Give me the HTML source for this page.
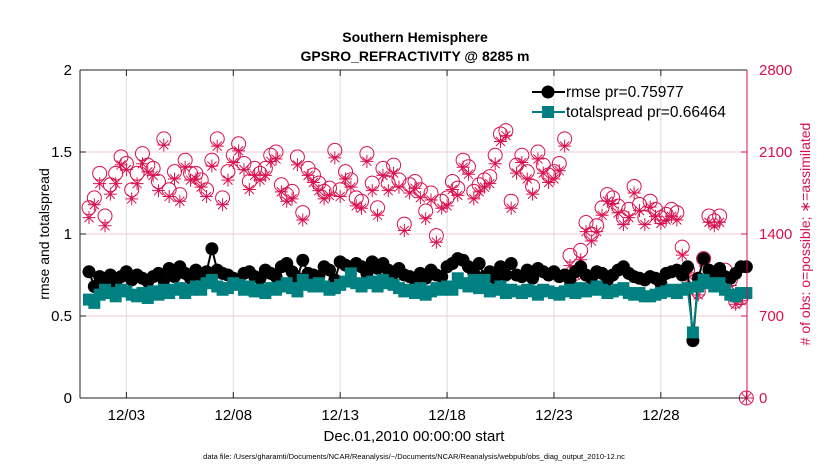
<!DOCTYPE html>
<html><head><meta charset="utf-8"><style>
body{margin:0;background:#fff;font-family:"Liberation Sans",sans-serif}
svg text{font-family:"Liberation Sans",sans-serif}
</style></head><body>
<svg id="chart" width="830" height="470" xmlns="http://www.w3.org/2000/svg">
<rect width="830" height="470" fill="#fff"/>
<g id="grid"></g><g id="marks"></g><g id="axes"></g>
<text x="415" y="42" font-size="14" font-weight="bold" text-anchor="middle">Southern Hemisphere</text>
<text x="415" y="61" font-size="14" font-weight="bold" text-anchor="middle">GPSRO_REFRACTIVITY @ 8285 m</text>
<text x="414" y="441" font-size="15" text-anchor="middle">Dec.01,2010 00:00:00 start</text>
<text x="414" y="459" font-size="7.5" text-anchor="middle">data file: /Users/gharamti/Documents/NCAR/Reanalysis/~/Documents/NCAR/Reanalysis/webpub/obs_diag_output_2010-12.nc</text>
<text transform="translate(49,234) rotate(-90)" font-size="14" text-anchor="middle">rmse and totalspread</text>
<text transform="translate(810,234) rotate(-90)" font-size="14" text-anchor="middle" fill="#d9114f"># of obs: o=possible; ∗=assimilated</text>
<g>
<line x1="532" y1="92" x2="565" y2="92" stroke="#000" stroke-width="2"/>
<circle cx="548" cy="92" r="6.5" fill="#000"/>
<text x="566" y="97" font-size="15.5">rmse pr=0.75977</text>
<line x1="532" y1="112" x2="565" y2="112" stroke="#008080" stroke-width="2"/>
<rect x="542" y="106" width="12" height="12" fill="#008080"/>
<text x="566" y="117" font-size="15.5">totalspread pr=0.66464</text>
</g>
</svg>
<script>
const xTickLabels=["12/03","12/08","12/13","12/18","12/23","12/28"];
const xTickDays=[2,7,12,17,22,27];
const yLeftTicks=[0,0.5,1,1.5,2];
const yRightTicks=[0,700,1400,2100,2800];
const rmse=[0.77,0.68,0.74,0.72,0.75,0.70,0.74,0.77,0.72,0.75,
0.73,0.71,0.74,0.76,0.72,0.79,0.74,0.80,0.76,0.73,
0.78,0.75,0.77,0.91,0.78,0.76,0.75,0.73,0.72,0.76,
0.77,0.74,0.73,0.78,0.76,0.74,0.80,0.82,0.77,0.73,
0.84,0.76,0.75,0.74,0.80,0.78,0.72,0.83,0.81,0.79,
0.82,0.80,0.76,0.83,0.79,0.82,0.78,0.76,0.79,0.75,
0.74,0.72,0.76,0.73,0.78,0.75,0.74,0.80,0.82,0.85,
0.84,0.80,0.76,0.82,0.74,0.77,0.73,0.80,0.75,0.82,
0.75,0.74,0.78,0.73,0.79,0.77,0.75,0.77,0.74,0.75,
0.72,0.77,0.80,0.75,0.73,0.77,0.76,0.72,0.75,0.78,
0.80,0.76,0.74,0.73,0.72,0.74,0.73,0.70,0.76,0.77,
0.78,0.75,0.80,0.35,0.73,0.85,0.78,0.76,0.79,0.74,
0.73,0.76,0.80,0.80];
const spread=[0.60,0.58,0.63,0.66,0.64,0.62,0.66,0.65,0.63,0.62,
0.64,0.61,0.65,0.63,0.66,0.64,0.66,0.67,0.64,0.66,
0.68,0.66,0.70,0.72,0.68,0.66,0.67,0.70,0.69,0.66,
0.68,0.65,0.66,0.64,0.67,0.66,0.68,0.70,0.67,0.65,
0.72,0.69,0.68,0.70,0.68,0.66,0.67,0.69,0.71,0.76,
0.70,0.68,0.70,0.71,0.68,0.72,0.70,0.69,0.67,0.65,
0.66,0.64,0.67,0.63,0.65,0.67,0.66,0.68,0.66,0.73,
0.70,0.68,0.72,0.67,0.72,0.65,0.66,0.68,0.64,0.66,
0.65,0.64,0.66,0.65,0.63,0.66,0.65,0.64,0.63,0.65,
0.66,0.64,0.67,0.65,0.66,0.68,0.66,0.64,0.65,0.66,
0.67,0.64,0.63,0.64,0.62,0.62,0.63,0.64,0.65,0.66,
0.64,0.66,0.67,0.40,0.68,0.72,0.70,0.68,0.70,0.66,
0.63,0.62,0.64,0.64];
const obsPossible=[1624,1708,1918,1554,1820,1918,2058,2002,1778,1918,
2086,1988,1960,1848,2212,1778,1932,1736,2030,1918,
1918,1862,1778,2030,2212,1708,1932,2072,2170,2002,
1848,1960,1918,1960,2072,2100,1820,1736,1764,2058,
1582,1960,1904,1834,1764,1792,2114,1778,1932,1862,
1708,1680,2086,1834,1624,1960,1834,1988,1862,1484,
1820,1848,1778,1596,1750,1386,1680,1708,1848,1792,
2030,1974,1764,1820,1862,1890,2072,2254,2282,1680,
1988,2072,1932,1806,2100,1988,1904,1932,2002,2212,
1218,1064,1260,1498,1400,1470,1624,1736,1708,1638,
1540,1610,1806,1652,1540,1680,1610,1540,1568,1610,
1582,1288,1092,1008,910,1190,1554,1512,1554,1092,
1008,826,854,0];
const obsAssim=[1540,1650,1830,1470,1740,1830,1990,1950,1700,1830,
2000,1930,1900,1770,2160,1720,1870,1680,1970,1860,
1870,1800,1720,1980,2150,1650,1860,2010,2110,1950,
1780,1900,1860,1900,2020,2040,1760,1680,1700,1990,
1520,1900,1840,1770,1700,1730,2050,1720,1870,1800,
1640,1620,2020,1770,1560,1900,1770,1920,1800,1430,
1750,1790,1710,1530,1690,1330,1620,1640,1780,1730,
1970,1910,1700,1760,1800,1830,2000,2190,2240,1620,
1920,2010,1870,1740,2040,1920,1840,1870,1940,2150,
1130,1050,1180,1420,1340,1420,1560,1680,1660,1580,
1480,1540,1750,1600,1480,1630,1550,1490,1520,1550,
1520,1220,1050,970,880,1160,1500,1470,1500,1030,
960,800,830,0];

const NS="http://www.w3.org/2000/svg";
const L=80,R=747,T=70,B=398,D0=-0.17,D1=31.03;
const xs=d=>L+(d-D0)/(D1-D0)*(R-L);
const yl=v=>B-v/2*(B-T);
const yr=v=>B-v/2800*(B-T);
const PINK="#d9114f";
function mk(tag,attrs,parent){const e=document.createElementNS(NS,tag);for(const k in attrs)e.setAttribute(k,attrs[k]);document.getElementById(parent).appendChild(e);return e;}
xTickDays.forEach((d,i)=>{
 const g=mk('line',{x1:xs(d),x2:xs(d),y1:T,y2:B,stroke:'#dcdcdc','stroke-width':1},'grid');
 
 
 const t=mk('line',{x1:xs(d),x2:xs(d),y1:B,y2:B-6,stroke:'#222','stroke-width':1},'axes');
 
 
 const t2=mk('line',{x1:xs(d),x2:xs(d),y1:T,y2:T+6,stroke:'#222','stroke-width':1},'axes');
 
 
 const lb=mk('text',{x:xs(d),y:B+22,'font-size':15,'text-anchor':'middle'},'axes');
 lb.textContent=xTickLabels[i];
 
 
});
yRightTicks.forEach(v=>{
 if(v>0&&v<2800){const g=mk('line',{x1:L,x2:R,y1:yr(v),y2:yr(v),stroke:'#f5c9d8','stroke-width':1},'grid');
 
 }
 const t=mk('line',{x1:R,x2:R-6,y1:yr(v),y2:yr(v),stroke:PINK,'stroke-width':1},'axes');
 
 
 const lb=mk('text',{x:R+12,y:yr(v)+5,'font-size':15,fill:PINK},'axes');
 lb.textContent=v;
 
 
});
yLeftTicks.forEach(v=>{
 const t=mk('line',{x1:L,x2:L+6,y1:yl(v),y2:yl(v),stroke:'#222','stroke-width':1},'axes');
 
 
 const lb=mk('text',{x:L-8,y:yl(v)+5,'font-size':15,'text-anchor':'end'},'axes');
 lb.textContent=v;
 
 
});
let ax=mk('line',{x1:L,x2:L,y1:T,y2:B,stroke:'#222','stroke-width':1},'axes');


ax=mk('line',{x1:L,x2:R,y1:B,y2:B,stroke:'#222','stroke-width':1},'axes');


ax=mk('line',{x1:L,x2:R,y1:T,y2:T,stroke:'#222','stroke-width':1},'axes');


ax=mk('line',{x1:R,x2:R,y1:T,y2:B,stroke:PINK,'stroke-width':1},'axes');


const day=i=>0.25*(i+1);
obsPossible.forEach((v,i)=>{
 const c=mk('circle',{cx:xs(day(i)),cy:yr(v),r:7,fill:'none',stroke:PINK,'stroke-width':1},'marks');
 
 
});
obsAssim.forEach((v,i)=>{
 const x=xs(day(i)),y=yr(v),s=6.5;
 const d=`M${x-s},${y}H${x+s}M${x},${y-s}V${y+s}M${x-s*0.7},${y-s*0.7}L${x+s*0.7},${y+s*0.7}M${x-s*0.7},${y+s*0.7}L${x+s*0.7},${y-s*0.7}`;
 const p=mk('path',{d:d,stroke:PINK,'stroke-width':1,fill:'none'},'marks');
 
 
});
let pl=mk('polyline',{points:rmse.map((v,i)=>xs(day(i))+','+yl(v)).join(' '),fill:'none',stroke:'#000','stroke-width':2},'marks');


rmse.forEach((v,i)=>{
 const c=mk('circle',{cx:xs(day(i)),cy:yl(v),r:6.5,fill:'#000'},'marks');
 
 
});
pl=mk('polyline',{points:spread.map((v,i)=>xs(day(i))+','+yl(v)).join(' '),fill:'none',stroke:'#008080','stroke-width':2},'marks');


spread.forEach((v,i)=>{
 const r=mk('rect',{x:xs(day(i))-6,y:yl(v)-6,width:12,height:12,fill:'#008080'},'marks');
 
 
});
</script>
</body></html>
